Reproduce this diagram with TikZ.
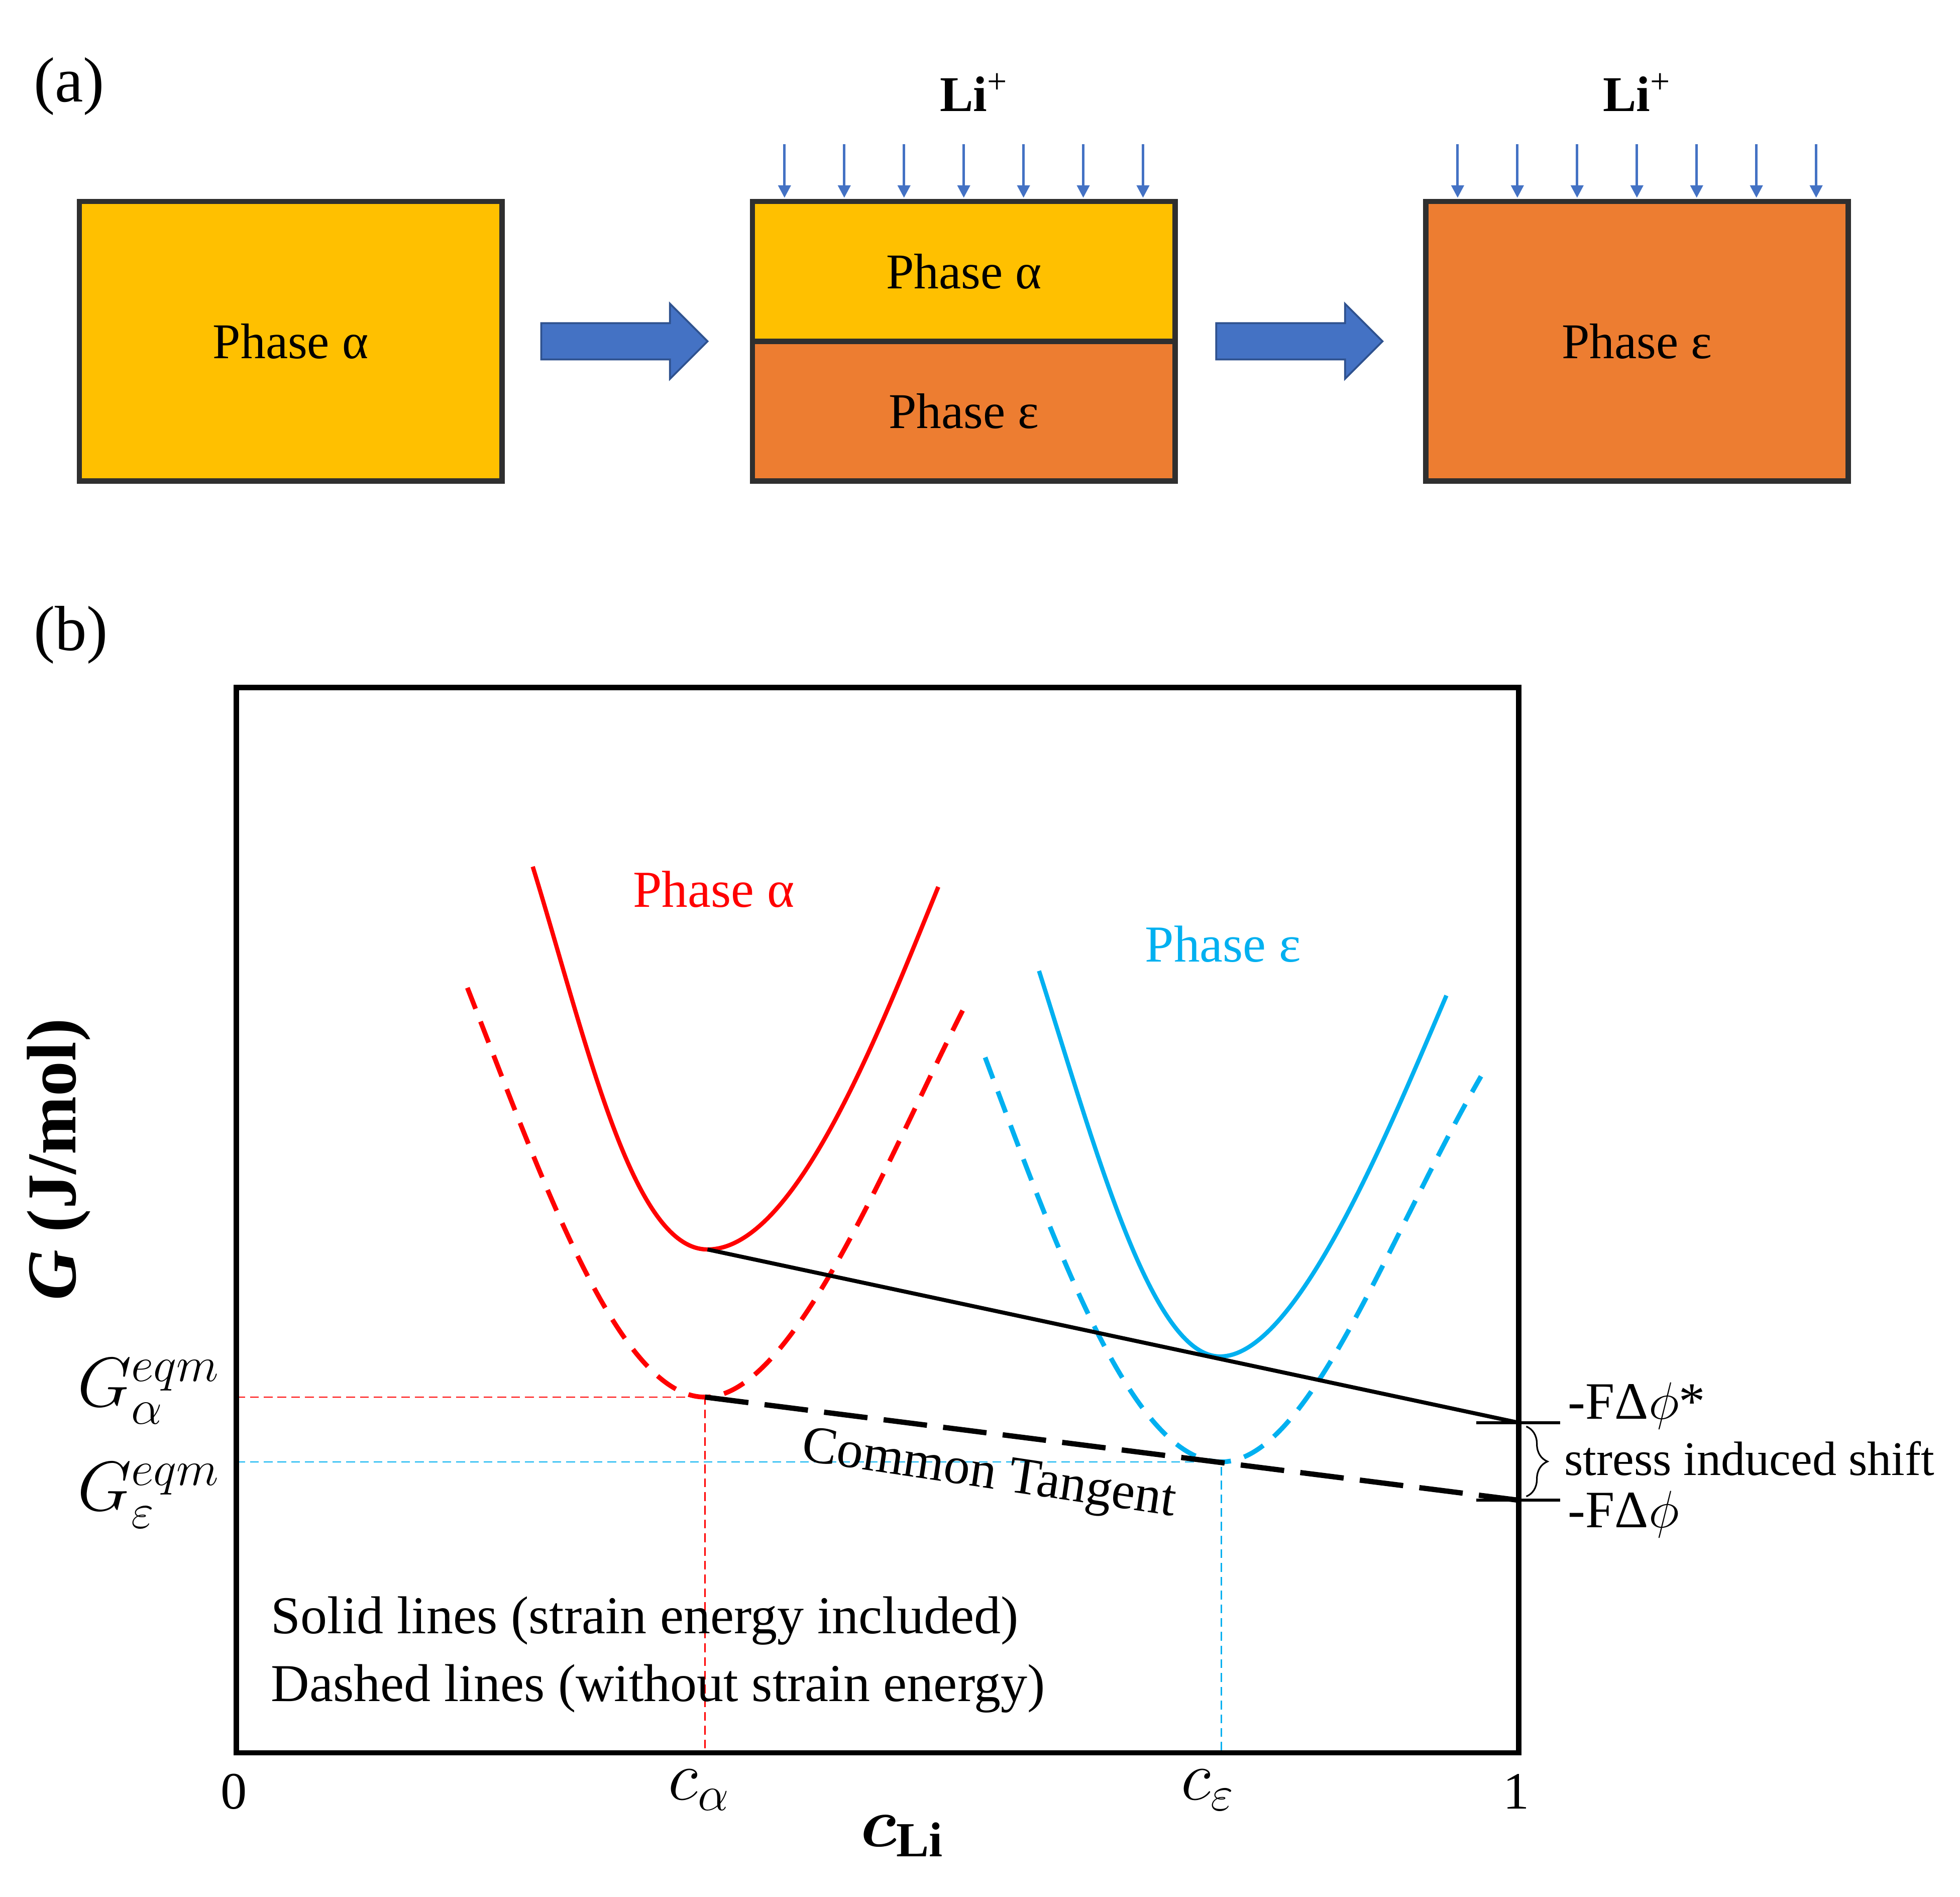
\RequirePackage{fix-cm}
\documentclass[tikz,border=0pt]{standalone}
\usepackage{amsmath,amssymb}
\usepackage{fontspec}
\setmainfont{Liberation Serif}
\usepackage{xcolor}
\usepackage{tikz}
\usetikzlibrary{positioning,arrows.meta,calc,decorations.pathreplacing}

\definecolor{phaseYellow}{HTML}{FFC000}
\definecolor{phaseOrange}{HTML}{ED7D31}
\definecolor{boxBorder}{HTML}{2F2F2F}
\definecolor{arrowBlue}{HTML}{4472C4}
\definecolor{arrowEdge}{HTML}{2F528F}
\definecolor{curveRed}{HTML}{FF0000}
\definecolor{curveCyan}{HTML}{00B0F0}

\newcommand{\fsize}[1]{\fontsize{#1}{#1}\selectfont}

\begin{document}
\begin{tikzpicture}[x=1pt, y=-1pt,
    phasebox/.style={rectangle, draw=boxBorder, line width=4.3pt, inner sep=0pt, outer sep=0pt,
                     minimum width=338pt, minimum height=223.6pt, font=\fsize{40}},
    halfbox/.style={phasebox, minimum height=111.8pt},
    ionarrow/.style={-{Triangle[width=10pt,length=10pt]}, line width=2pt, draw=arrowBlue},
    bigarrow/.style={fill=arrowBlue, draw=arrowEdge, line width=1.5pt},
    ionlabel/.style={anchor=base, font=\fsize{40}},
    panel/.style={anchor=base west, font=\fsize{51}},
    solidcurve/.style={line width=3.4pt},
    dashedcurve/.style={line width=3.8pt, dash pattern=on 18pt off 11pt},
    guide/.style={line width=1pt, dash pattern=on 7pt off 4pt},
    shifttick/.style={line width=2.6pt},
    bracedec/.style={decorate, decoration={brace, amplitude=17pt}, line width=1.3pt},
    mathlabel/.style={anchor=base west, font=\fsize{56}},
    axislabel/.style={anchor=base, font=\fsize{42}},
    shiftlabel/.style={anchor=base west, font=\fsize{42}},
    note/.style={anchor=base west, font=\fsize{42.6}}
]
\useasboundingbox (0,0) rectangle (1568,1517);

% Panel (a): lithiation sequence
\node[panel] (pa) at (23.4,81.5) {(a)};
\node[phasebox, fill=phaseYellow] (alpha) at (232.5,273) {Phase α};
\node[halfbox, fill=phaseYellow] (mixA) at (771,217.1) {Phase α};
\node[halfbox, fill=phaseOrange] (mixE) at (771,328.9) {Phase ε};
\node[phasebox, fill=phaseOrange] (eps) at (1309.5,273) {Phase ε};

% Block arrows between the stages
\coordinate (arr1) at ($(alpha.east)+(31.5,0)$);
\coordinate (arr2) at ($(mixA.east |- alpha.east)+(33,0)$);
\foreach \a in {arr1,arr2}
  \draw[bigarrow] (\a) ++(0,-14.5) -- ++(103,0) -- ++(0,-15.5) -- ++(30,30)
        -- ++(-30,30) -- ++(0,-15.5) -- ++(-103,0) -- cycle;

% Li+ flux onto the top surfaces
\node[ionlabel] (li1) at ($(mixA.north)+(8,-72)$) {\textbf{Li}\textsuperscript{+}};
\node[ionlabel] (li2) at ($(eps.north)+(0,-72)$) {\textbf{Li}\textsuperscript{+}};
\foreach \b in {mixA,eps}
  \foreach \k in {-3,...,3}
    \draw[ionarrow] ($(\b.north)+(\k*47.8,-46)$) -- ($(\b.north)+(\k*47.8,-3)$);

% Panel (b): free energy curves
\node[panel] (pb) at (23.4,520) {(b)};

\coordinate (minA) at (566,999.4);
\coordinate (minE) at (976,1085);
\coordinate (eqA) at (564,1117.5);
\coordinate (eqE) at (977,1169.3);
\coordinate (endS) at (1215,1138);
\coordinate (endD) at (1215,1200);

% Guide lines to the axes
\draw[guide, curveRed] (189,1117.5) -- (eqA) -- (564,1402);
\draw[guide, curveCyan] (189,1169.3) -- (eqE) -- (977,1402);

% Phase alpha
\draw[solidcurve, curveRed] (426.2,693.2) .. controls (470.3,836.6) and (506,999.4) .. (minA)
  .. controls (636,999.4) and (701.5,829.8) .. (750.6,709.4);
\draw[dashedcurve, curveRed] (373.9,790.1) .. controls (432.3,939.1) and (494,1117.5) .. (eqA)
  .. controls (634,1117.5) and (707.3,932.4) .. (770.6,807.3);

% Phase epsilon
\draw[solidcurve, curveCyan] (831.2,776.6) .. controls (876.7,919.6) and (921,1085) .. (minE)
  .. controls (1036,1085) and (1106.1,915.9) .. (1157.1,796.3);
\draw[dashedcurve, curveCyan] (788.1,845.8) .. controls (847.6,1005.1) and (907,1169.3) .. (eqE)
  .. controls (1047,1169.3) and (1109.8,991) .. (1184.8,860.9);

% Tangent lines
\draw[line width=3.2pt] (minA) -- (endS);
\draw[line width=4.2pt, dash pattern=on 35pt off 13pt] (eqA) -- (endD);

% Plot frame
\node[draw, line width=4.2pt, inner sep=0pt, minimum width=1026pt, minimum height=852pt] (frame) at (702,976) {};

% Potential shift on the right
\draw[shifttick] ($(endS)+(-34,0)$) -- ($(endS)+(33,0)$);
\draw[shifttick] ($(endD)+(-34,0)$) -- ($(endD)+(33,0)$);
\draw[bracedec] ($(endS)+(6,3)$) -- ($(endD)+(6,-3)$);
\node[shiftlabel] (phiS) at ($(endS)+(36,-2.8)$) {-FΔ$\phi$*};
\node[shiftlabel, font=\fsize{38.6}] (shift) at ($(endS)+(33,42)$) {stress induced shift};
\node[shiftlabel] (phiD) at ($(endD)+(36,21.6)$) {-FΔ$\phi$};

% Curve labels
\node[anchor=base west, font=\fsize{41.5}, text=curveRed] (labA) at (503,725.5) {Phase α};
\node[anchor=base west, font=\fsize{41.5}, text=curveCyan] (labE) at (912.6,769.5) {Phase ε};
\node[anchor=base west, font=\fsize{42}, rotate=-8.5] (ct) at (637,1167.5) {Common Tangent};

% Legend
\node[note] (n1) at (213.4,1306.7) {Solid lines (strain energy included)};
\node[note] (n2) at (213.4,1361) {Dashed lines (without strain energy)};

% Axes labels
\node[axislabel] (x0) at (187,1447) {0};
\node[axislabel] (x1) at (1213,1447) {1};
\node[anchor=base, font=\fsize{56}] (ca) at (559,1439.7) {$c_\alpha$};
\node[anchor=base, font=\fsize{56}] (ce) at (966,1439.7) {$c_\varepsilon$};
\node[anchor=base, font=\fsize{56}] (cli) at (721.5,1476.8) {$\boldsymbol{c}_{\textbf{Li}}$};
\node[mathlabel] (ga) at (58.4,1125) {$G_\alpha^{eqm}$};
\node[mathlabel] (ge) at (58.4,1208.2) {$G_\varepsilon^{eqm}$};
\node[anchor=base, font=\fsize{56}, rotate=90] (gy) at (60.3,927.5) {\textbf{\textit{G} (J/mol)}};

\end{tikzpicture}
\end{document}
